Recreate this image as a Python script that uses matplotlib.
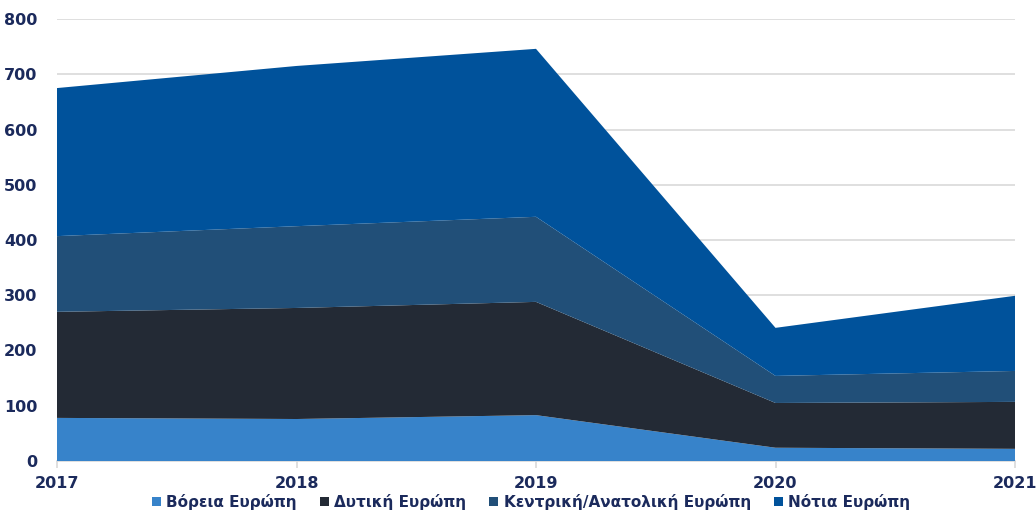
import matplotlib.pyplot as plt
import numpy as np

years = [2017, 2018, 2019, 2020, 2021]
northern = [78, 76, 83, 24, 22]
western = [192, 201, 205, 81, 85]
central_eastern = [137, 148, 154, 49, 56]
southern = [268, 290, 304, 87, 136]

labels = ["Βόρεια Ευρώπη", "Δυτική Ευρώπη", "Κεντρική/Ανατολική Ευρώπη", "Νότια Ευρώπη"]
colors = ["#3783CA", "#232A35", "#214F78", "#00529B"]
text_color = "#1B2A5C"

plt.rcParams['font.family'] = ['DejaVu Sans']

fig = plt.figure(figsize=(10.36, 5.15), dpi=100)
ax = fig.add_axes([57 / 1036, 1 - 461 / 515, (1015 - 57) / 1036, (461 - 19) / 515])

ax.stackplot(years, northern, western, central_eastern, southern,
             colors=colors, labels=labels, linewidth=0)

ax.set_xlim(2017, 2021)
ax.set_ylim(0, 800)
ax.set_yticks(np.arange(0, 801, 100))
ax.set_xticks(years)
ax.yaxis.grid(True, color="#D9D9D9", linewidth=1.2)
ax.set_axisbelow(True)

for s in ["top", "right", "left"]:
    ax.spines[s].set_visible(False)
ax.spines["bottom"].set_color("#D9D9D9")
ax.spines["bottom"].set_linewidth(1.2)
ax.spines["bottom"].set_zorder(0)

ax.tick_params(axis="y", length=0, pad=14, labelsize=11.5, labelcolor=text_color)
ax.tick_params(axis="x", length=5, color="#D9D9D9", width=1.2, pad=6,
               labelsize=11.5, labelcolor=text_color)
for lab in ax.get_xticklabels() + ax.get_yticklabels():
    lab.set_fontweight("bold")

handles, leg_labels = ax.get_legend_handles_labels()
leg = fig.legend(handles, leg_labels, loc="center", bbox_to_anchor=(531 / 1036, 1 - 502 / 515),
                 ncol=4, frameon=False, handlelength=0.6, handleheight=0.6,
                 handletextpad=0.35, columnspacing=1.5, borderpad=0,
                 prop={"size": 11, "weight": "bold"})
for t in leg.get_texts():
    t.set_color(text_color)

fig.savefig("out.png", dpi=100)
